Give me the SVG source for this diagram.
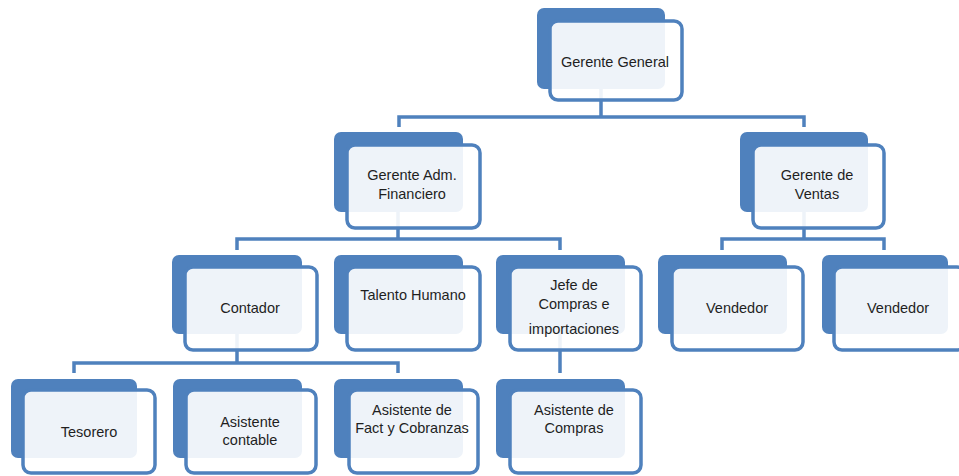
<svg xmlns="http://www.w3.org/2000/svg" width="959" height="476" viewBox="0 0 959 476">
<style>
.bk{fill:#4F81BD}
.fr{fill:#ffffff;fill-opacity:0.9;stroke:#4F81BD;stroke-width:3.5}
.cn{fill:none;stroke:#4F81BD;stroke-width:3.5}
text{font-family:"Liberation Sans",Arial,sans-serif;font-size:14.5px;fill:#1f1f1f;text-anchor:middle}
</style>
<rect width="959" height="476" fill="#ffffff"/>
<g id="connectors">
<path class="cn" d="M601 48 V117 M399 127 V117 H804 V127"/>
<path class="cn" d="M398 172 V239 M237 250 V239 H560 V250"/>
<path class="cn" d="M804 172 V239 M722 250 V239 H884 V250"/>
<path class="cn" d="M237 295 V363 M74 373 V363 H398 V373"/>
<path class="cn" d="M560 295 V373"/>
</g>
<g id="gerente-general">
<rect class="bk" x="537" y="8" width="128" height="81" rx="7"/>
<rect class="fr" x="550" y="21" width="132" height="79" rx="8"/>
<text x="615" y="67">Gerente General</text>
</g>
<g id="gerente-adm">
<rect class="bk" x="334" y="132" width="129" height="80" rx="7"/>
<rect class="fr" x="347" y="145" width="133" height="83" rx="8"/>
<text x="412" y="180">Gerente Adm.</text>
<text x="412" y="199">Financiero</text>
</g>
<g id="gerente-ventas">
<rect class="bk" x="740" y="132" width="128" height="80" rx="7"/>
<rect class="fr" x="753" y="145" width="131" height="83" rx="8"/>
<text x="817" y="180">Gerente de</text>
<text x="817" y="199">Ventas</text>
</g>
<g id="contador">
<rect class="bk" x="172" y="255" width="130" height="79" rx="7"/>
<rect class="fr" x="185" y="267" width="132" height="83" rx="8"/>
<text x="250" y="313">Contador</text>
</g>
<g id="talento-humano">
<rect class="bk" x="334" y="255" width="129" height="79" rx="7"/>
<rect class="fr" x="347" y="267" width="133" height="83" rx="8"/>
<text x="413" y="300">Talento Humano</text>
</g>
<g id="jefe-compras">
<rect class="bk" x="496" y="255" width="129" height="79" rx="7"/>
<rect class="fr" x="510" y="267" width="131" height="83" rx="8"/>
<text x="574" y="290">Jefe de</text>
<text x="574" y="309">Compras e</text>
<text x="574" y="334">importaciones</text>
</g>
<g id="vendedor-1">
<rect class="bk" x="658" y="255" width="129" height="79" rx="7"/>
<rect class="fr" x="672" y="267" width="131" height="83" rx="8"/>
<text x="737" y="313">Vendedor</text>
</g>
<g id="vendedor-2">
<rect class="bk" x="822" y="255" width="126" height="79" rx="7"/>
<rect class="fr" x="834" y="267" width="131" height="83" rx="8"/>
<text x="898" y="313">Vendedor</text>
</g>
<g id="tesorero">
<rect class="bk" x="11" y="379" width="126" height="79" rx="7"/>
<rect class="fr" x="23" y="390" width="132" height="83" rx="8"/>
<text x="89" y="437">Tesorero</text>
</g>
<g id="asistente-contable">
<rect class="bk" x="173" y="379" width="129" height="79" rx="7"/>
<rect class="fr" x="186" y="390" width="130" height="83" rx="8"/>
<text x="250" y="427">Asistente</text>
<text x="250" y="445">contable</text>
</g>
<g id="asistente-fact">
<rect class="bk" x="334" y="379" width="129" height="79" rx="7"/>
<rect class="fr" x="349" y="390" width="129" height="83" rx="8"/>
<text x="412" y="415">Asistente de</text>
<text x="412" y="433">Fact y Cobranzas</text>
</g>
<g id="asistente-compras">
<rect class="bk" x="496" y="379" width="129" height="79" rx="7"/>
<rect class="fr" x="510" y="390" width="131" height="83" rx="8"/>
<text x="574" y="415">Asistente de</text>
<text x="574" y="433">Compras</text>
</g>
</svg>
